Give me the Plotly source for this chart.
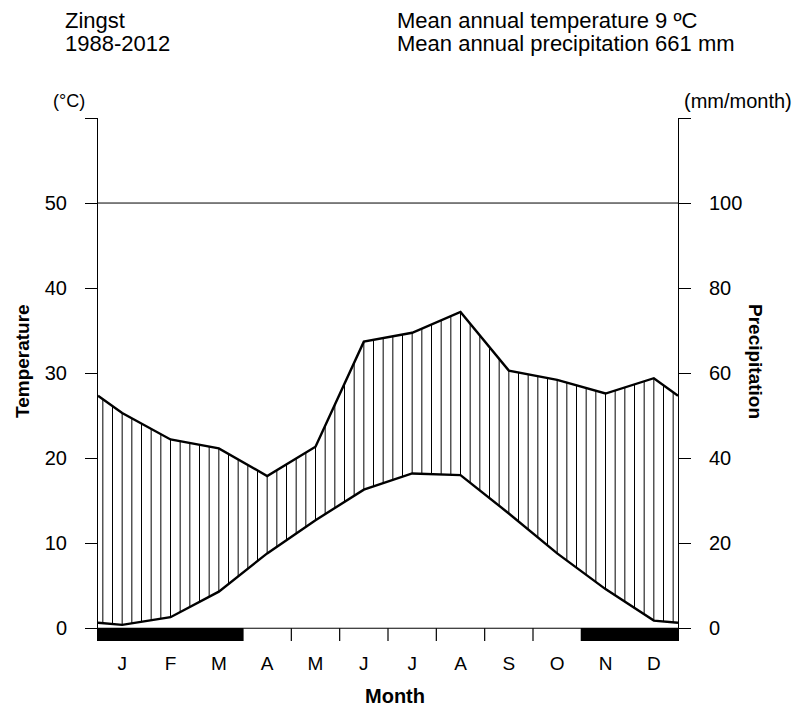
import numpy as np
import plotly.graph_objects as go

# ---- data ----
months = ["J", "F", "M", "A", "M", "J", "J", "A", "S", "O", "N", "D"]
temperature = [0.4, 1.3, 4.3, 8.8, 12.7, 16.3, 18.2, 18.0, 13.5, 8.8, 4.6, 0.9]          # degC
precipitation = [50.6, 44.4, 42.3, 35.8, 42.7, 67.4, 69.5, 74.4, 60.6, 58.4, 55.2, 58.8]   # mm/month
frost = [1, 1, 1, 0, 0, 0, 0, 0, 0, 0, 1, 1]
temp_ticks = [0, 10, 20, 30, 40, 50, 60]
temp_ticktext = ["0", "10", "20", "30", "40", "50", ""]
prec_ticks = [0, 20, 40, 60, 80, 100, 120]
prec_ticktext = ["0", "20", "40", "60", "80", "100", ""]
station = "Zingst"
period = "1988-2012"
mean_temp = 9
annual_prec = 661

# ---- geometry helpers ----
W, H = 795, 708
L, R, T, B = 98, 678, 118, 641
def px(x):
    return (x - L) / (R - L)
def py(y):
    return (B - y) / (B - T)

centers = [i + 0.5 for i in range(12)]
t_edge = (temperature[0] + temperature[-1]) / 2
p_edge = (precipitation[0] + precipitation[-1]) / 2
xs = [0] + centers + [12]
tx = [t_edge] + temperature + [t_edge]
pxv = [p_edge] + precipitation + [p_edge]

# hatch lines (humid period)
hx, hy = [], []
for k in range(60):
    x = 0.1 + 0.2 * k
    t = np.interp(x, xs, tx)
    p = np.interp(x, xs, pxv) / 2
    if p > t:
        hx += [x, x, None]
        hy += [t, p, None]

fig = go.Figure()
fig.add_trace(go.Scatter(x=hx, y=hy, mode="lines", line=dict(color="black", width=1),
                         hoverinfo="skip", showlegend=False))
fig.add_trace(go.Scatter(x=xs, y=tx, mode="lines", line=dict(color="black", width=2.4),
                         showlegend=False))
fig.add_trace(go.Scatter(x=xs, y=pxv, mode="lines", line=dict(color="black", width=2.4),
                         yaxis="y2", showlegend=False))
# month boundary ticks
bx, by = [], []
for m in range(1, 12):
    bx += [m, m, None]
    by += [0, -1.5, None]
fig.add_trace(go.Scatter(x=bx, y=by, mode="lines", line=dict(color="black", width=1.2),
                         hoverinfo="skip", showlegend=False))
# frost bars
fig.add_trace(go.Bar(x=centers, y=[-1.5 if f else 0 for f in frost], width=1,
                     marker=dict(color="black", line=dict(width=0)), showlegend=False))

font = "Liberation Sans, Arial, sans-serif"
fig.update_layout(
    width=W, height=H,
    margin=dict(l=L, r=W - R, t=T, b=H - B),
    paper_bgcolor="white", plot_bgcolor="white",
    bargap=0,
    font=dict(family=font, color="black", size=19),
    xaxis=dict(range=[0, 12], tickvals=centers, ticktext=months, ticks="",
               showline=False, showgrid=False, zeroline=False,
               tickfont=dict(size=19), ticklabelstandoff=9),
    yaxis=dict(range=[-1.5, 60], tickvals=temp_ticks, ticktext=temp_ticktext,
               ticks="outside", ticklen=12, tickcolor="black", tickwidth=1,
               showline=True, linecolor="black", linewidth=1,
               showgrid=False, zeroline=False, tickfont=dict(size=20),
               ticklabelstandoff=14),
    yaxis2=dict(range=[-3, 120], tickvals=prec_ticks, ticktext=prec_ticktext,
                overlaying="y", side="right",
                ticks="outside", ticklen=12, tickcolor="black", tickwidth=1,
                showline=True, linecolor="black", linewidth=1,
                showgrid=False, zeroline=False, tickfont=dict(size=20),
                ticklabelstandoff=14),
    shapes=[
        dict(type="line", xref="x", yref="y", x0=0, x1=12, y0=50, y1=50,
             line=dict(color="black", width=1)),
        dict(type="line", xref="x", yref="y", x0=0, x1=12, y0=0, y1=0,
             line=dict(color="black", width=1)),
    ],
)

def ann(text, x, y, xanchor="left", size=19, bold=False, angle=0):
    fig.add_annotation(text=("<b>%s</b>" % text) if bold else text,
                       xref="paper", yref="paper", x=px(x), y=py(y),
                       xanchor=xanchor, yanchor="middle", showarrow=False,
                       textangle=angle, font=dict(size=size, family=font, color="black"))

ann(station, 63, 20, size=22)
ann(period, 63, 44, size=22)
ann("Mean annual temperature %d ºC" % mean_temp, 395, 20, size=22)
ann("Mean annual precipitation %d mm" % annual_prec, 395, 44, size=22)
ann("(°C)", 69, 101, xanchor="center", size=18)
ann("(mm/month)", 738, 101, xanchor="center", size=20)
ann("Temperature", 22, 361, xanchor="center", size=19, bold=True, angle=-90)
ann("Precipitation", 756, 361, xanchor="center", size=19, bold=True, angle=90)
ann("Month", 395, 696, xanchor="center", size=20, bold=True)

fig.write_html("out.html")
